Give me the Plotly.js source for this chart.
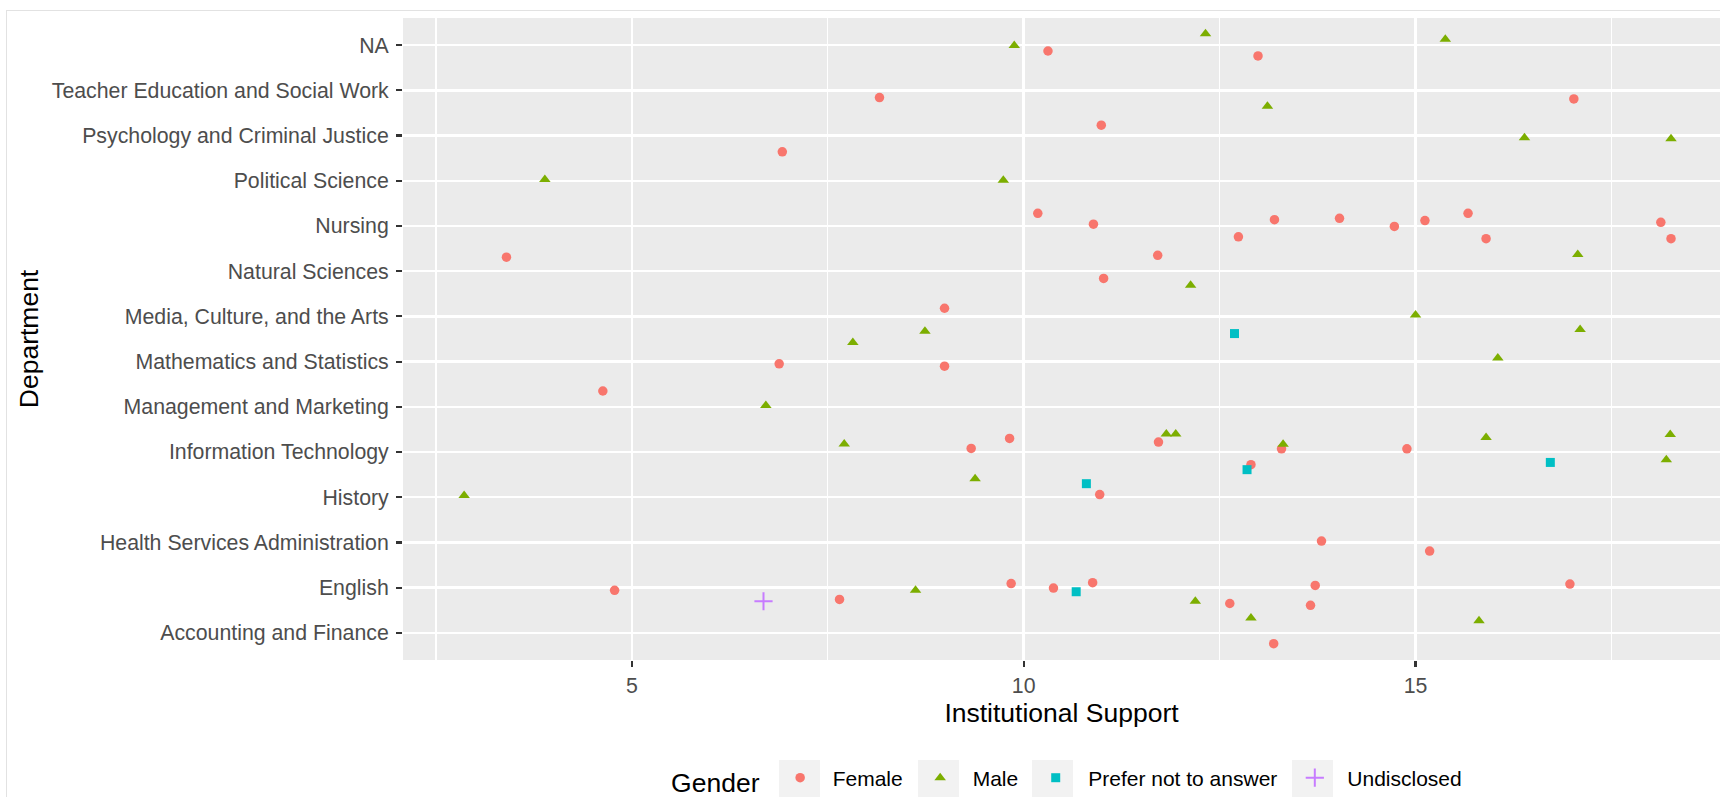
<!DOCTYPE html>
<html><head><meta charset="utf-8">
<script src="https://cdn.plot.ly/plotly-3.0.1.min.js"></script>
<style>
html,body{margin:0;padding:0;background:#fff;overflow:hidden;}
#frame{position:absolute;left:6px;top:10px;width:1800px;height:900px;border:1px solid #e2e2e2;box-sizing:border-box;}
.key{position:absolute;width:41px;height:41px;background:#F2F2F2;top:760px;}
#chart{position:absolute;left:0;top:0;width:1720px;height:797px;}
</style></head><body>
<div id="frame"></div>
<div class="key" style="left:779px"></div>
<div class="key" style="left:918px"></div>
<div class="key" style="left:1032px"></div>
<div class="key" style="left:1292px"></div>
<div id="chart"></div>
<script>
const departments = ["Accounting and Finance","English","Health Services Administration","History",
  "Information Technology","Management and Marketing","Mathematics and Statistics",
  "Media, Culture, and the Arts","Natural Sciences","Nursing","Political Science",
  "Psychology and Criminal Justice","Teacher Education and Social Work","NA"];

const genders = ["Female","Male","Prefer not to answer","Undisclosed"];

const femaleDept = ["NA","NA","Teacher Education and Social Work","Teacher Education and Social Work",
  "Psychology and Criminal Justice","Psychology and Criminal Justice",
  "Nursing","Nursing","Nursing","Nursing","Nursing","Nursing","Nursing","Nursing","Nursing","Nursing","Nursing",
  "Natural Sciences","Natural Sciences","Natural Sciences",
  "Media, Culture, and the Arts",
  "Mathematics and Statistics","Mathematics and Statistics",
  "Management and Marketing",
  "Information Technology","Information Technology","Information Technology","Information Technology","Information Technology","Information Technology",
  "History",
  "Health Services Administration","Health Services Administration",
  "English","English","English","English","English","English","English","English","English",
  "Accounting and Finance"];
const femaleSupport = [10.31,12.99,8.16,17.02,6.92,10.99,
  10.18,10.89,12.74,13.20,14.03,14.73,15.12,15.67,15.90,18.13,18.26,
  3.40,11.71,11.02,
  8.99,
  6.88,8.99,
  4.63,
  9.33,9.82,11.72,13.29,14.89,12.90,
  10.97,
  13.80,15.18,
  4.78,7.65,9.84,10.38,10.88,12.63,13.72,13.66,16.97,
  13.19];
const femaleJitter = [-0.13,-0.24,-0.16,-0.19,-0.36,0.23,
  0.28,0.04,-0.24,0.14,0.17,-0.01,0.12,0.28,-0.28,0.08,-0.28,
  0.31,0.35,-0.16,
  0.18,
  -0.05,-0.10,
  0.35,
  0.08,0.30,0.22,0.07,0.07,-0.28,
  0.06,
  0.03,-0.19,
  -0.06,-0.26,0.09,-0.01,0.11,-0.35,0.05,-0.39,0.08,
  -0.24];

const maleDept = ["NA","NA","NA","Teacher Education and Social Work",
  "Psychology and Criminal Justice","Psychology and Criminal Justice",
  "Political Science","Political Science",
  "Natural Sciences","Natural Sciences",
  "Media, Culture, and the Arts","Media, Culture, and the Arts","Media, Culture, and the Arts",
  "Mathematics and Statistics","Mathematics and Statistics",
  "Management and Marketing",
  "Information Technology","Information Technology","Information Technology","Information Technology","Information Technology","Information Technology","Information Technology",
  "History","History",
  "English","English",
  "Accounting and Finance","Accounting and Finance"];
const maleSupport = [9.88,12.32,15.38,13.11,16.39,18.26,3.89,9.74,17.07,12.13,
  15.00,17.10,8.74,7.82,16.05,6.71,
  7.71,11.82,11.94,13.31,15.90,18.25,18.20,
  9.38,2.86,8.62,12.19,12.90,15.81];
const maleJitter = [-0.01,0.25,0.13,-0.35,-0.05,-0.07,0.03,0.01,0.37,-0.31,
  0.03,-0.29,-0.33,0.42,0.08,0.03,
  0.18,0.40,0.40,0.17,0.32,0.39,-0.17,
  0.41,0.04,-0.06,-0.30,0.33,0.27];

const preferDept = ["Media, Culture, and the Arts","Information Technology","Information Technology","History","English"];
const preferSupport = [12.69,16.72,12.85,10.80,10.67];
const preferJitter = [-0.38,-0.23,-0.39,0.30,-0.09];

const undisclosedDept = ["English"];
const undisclosedSupport = [6.68];
const undisclosedJitter = [-0.30];

const colors = ["#F8766D","#7CAE00","#00BFC4","#C77CFF"];

function ypos(depts, jit){ return depts.map((d,i)=>departments.indexOf(d)+jit[i]); }

const FONT = "Liberation Sans, Arial, Helvetica, sans-serif";

const traces = [
  {name:genders[0], x:femaleSupport, y:ypos(femaleDept,femaleJitter), type:"scatter", mode:"markers",
   marker:{symbol:"circle", size:9.5, color:colors[0]}},
  {name:genders[1], x:maleSupport, y:ypos(maleDept,maleJitter), type:"scatter", mode:"markers",
   marker:{symbol:"triangle-up", size:10, color:colors[1]}},
  {name:genders[2], x:preferSupport, y:ypos(preferDept,preferJitter), type:"scatter", mode:"markers",
   marker:{symbol:"square", size:9, color:colors[2]}},
  {name:genders[3], x:undisclosedSupport, y:ypos(undisclosedDept,undisclosedJitter), type:"scatter", mode:"markers",
   marker:{symbol:"cross-thin", size:13, color:colors[3], line:{color:colors[3], width:2}}}
];

const layout = {
  width:1720, height:797,
  margin:{l:403, r:0, t:18, b:137, autoexpand:false},
  paper_bgcolor:"rgba(0,0,0,0)",
  plot_bgcolor:"#EBEBEB",
  font:{family:FONT, color:"#4D4D4D"},
  showlegend:true,
  xaxis:{
    range:[2.08,18.885], tick0:0, dtick:5, showline:false, zeroline:false,
    showgrid:true, gridcolor:"#FFFFFF", gridwidth:2.4,
    minor:{dtick:2.5, tick0:0, showgrid:true, gridcolor:"#FFFFFF", gridwidth:1.2, ticks:""},
    ticks:"outside", ticklen:6, tickwidth:2.2, tickcolor:"#333333",
    tickfont:{size:21.3, color:"#4D4D4D", family:FONT},
    title:{text:"Institutional Support", font:{size:26.5, color:"#000000", family:FONT}, standoff:0},
    fixedrange:true
  },
  yaxis:{
    range:[-0.6,13.6], tickmode:"array",
    tickvals:departments.map((d,i)=>i), ticktext:departments,
    showline:false, zeroline:false,
    showgrid:true, gridcolor:"#FFFFFF", gridwidth:2.4,
    ticks:"outside", ticklen:6, tickwidth:2.2, tickcolor:"#333333", ticklabelstandoff:3,
    tickfont:{size:21.3, color:"#4D4D4D", family:FONT},
    title:{text:"Department", font:{size:26.5, color:"#000000", family:FONT}, standoff:5},
    fixedrange:true
  },
  legend:{
    orientation:"h", x:0.505, xanchor:"center", y:-0.187, yanchor:"middle",
    itemwidth:55, font:{size:21, color:"#000000", family:FONT},
    title:{text:"Gender", side:"left", font:{size:26.5, color:"#000000", family:FONT}},
    bgcolor:"rgba(0,0,0,0)"
  }
};

Plotly.newPlot("chart", traces, layout, {displayModeBar:false, staticPlot:true});
</script>
</body></html>
